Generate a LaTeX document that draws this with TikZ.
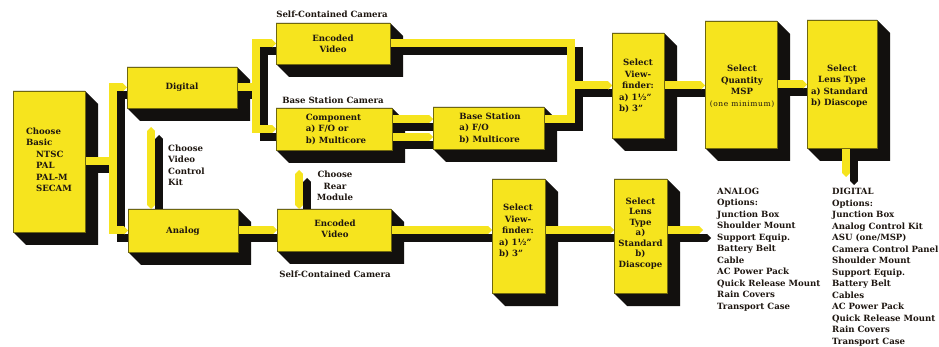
\documentclass[tikz,border=0pt]{standalone}
\usepackage{fontspec}
\setmainfont{DejaVu Serif}
\usetikzlibrary{arrows.meta,calc}
\definecolor{yel}{RGB}{246,228,30}
\definecolor{shad}{RGB}{18,16,14}
\definecolor{ink}{RGB}{30,22,16}
\pgfdeclarelayer{paper}\pgfdeclarelayer{bg}\pgfdeclarelayer{mid}\pgfsetlayers{paper,bg,mid,main}
\tikzset{
  face/.style={rectangle, fill=yel, draw=yel!45!black, line width=0.4pt, inner sep=0pt, outer sep=0pt},
  txt/.style={font=\fontsize{8.6}{11.5}\selectfont\bfseries, text=ink, inner sep=0pt, align=center},
  tipA/.tip={Triangle[width=8pt,length=4pt,line width=0pt]},
  bar/.style={draw=yel, line width=8pt, line join=miter},
  barsh/.style={draw=shad, line width=8pt, line join=miter, transform canvas={xshift=8pt,yshift=-8pt}},
}
\newcommand\mkbox[5]{%
  \node[face, minimum width=#4pt, minimum height=#5pt] (#1) at (#2,#3) {};
  \begin{pgfonlayer}{bg}
  \fill[shad] (#1.north west) -- (#1.north east) -- ($(#1.north east)+(13,13)$)
     -- ($(#1.south east)+(13,13)$) -- ($(#1.south west)+(13,13)$) -- (#1.south west) -- cycle;
  \end{pgfonlayer}}
\newcommand\conn[2][-tipA]{%
  \begin{pgfonlayer}{bg}\draw[barsh,#1] #2;\end{pgfonlayer}%
  \begin{pgfonlayer}{mid}\draw[bar,#1] #2;\end{pgfonlayer}}
\begin{document}
\begin{tikzpicture}[x=1pt,y=-1pt]
\useasboundingbox (0,0) rectangle (939,347);
\begin{pgfonlayer}{paper}\fill[white] (0,0) rectangle (939,347);\end{pgfonlayer}
% boxes
\mkbox{basic}{49}{161.5}{72}{141}
\mkbox{digital}{182}{87.5}{110}{41}
\mkbox{analog}{183}{230.5}{110}{43}
\mkbox{encT}{333}{43.5}{114}{41}
\mkbox{comp}{334}{129}{116}{42}
\mkbox{bases}{488.5}{128}{111}{42}
\mkbox{encB}{334}{230}{114}{42}
\mkbox{vfT}{638}{85.5}{52}{105}
\mkbox{qty}{741}{84.5}{72}{127}
\mkbox{lensT}{842}{84}{70}{128}
\mkbox{vfB}{518.5}{236}{53}{114}
\mkbox{lensB}{640.5}{236}{53}{114}
% free ends
\coordinate (lensOut) at (846,177);
\coordinate (rowB) at (0,230);
\coordinate (anOut) at (703,230);
\coordinate (kitTop) at (151,127);
\coordinate (rearTop) at (299,170);
% connectors
\conn{(basic.east) -| ($(digital.west)+(-14,0)$) -- (digital.west)}
\conn{(basic.east) -| ($(analog.west)+(-15,0)$) -- (analog.west)}
\conn{(digital.east) -| ($(encT.west)+(-20,0)$) -- (encT.west)}
\conn{(digital.east) -| ($(comp.west)+(-20,0)$) -- (comp.west)}
\conn{(encT.east) -| ($(vfT.west)+(-41,0)$) -- (vfT.west)}
\conn{($(bases.east)+(0,-9)$) -| ($(vfT.west)+(-41,0)$) -- (vfT.west)}
\conn{($(comp.east)+(0,-10)$) -- ($(bases.west)+(0,-9)$)}
\conn{($(comp.east)+(0,8)$) -- ($(bases.west)+(0,9)$)}
\conn{(vfT.east) -- (vfT.east -| qty.west)}
\conn{(qty.east) -- (qty.east -| lensT.west)}
\conn{(lensT.south -| lensOut) -- (lensOut)}
\conn{(analog.east |- rowB) -- (encB.west |- rowB)}
\conn{(encB.east |- rowB) -- (vfB.west |- rowB)}
\conn{(vfB.east |- rowB) -- (lensB.west |- rowB)}
\conn{(lensB.east |- rowB) -- (anOut)}
\conn[tipA-tipA]{(kitTop) -- (kitTop |- analog.north)}
\conn[tipA-tipA]{(rearTop) -- (rearTop |- encB.north)}
% box texts
\node[txt, align=left] (t_basic) at (49,160) {Choose\\Basic\\\hspace*{10pt}NTSC\\\hspace*{10pt}PAL\\\hspace*{10pt}PAL-M\\\hspace*{10pt}SECAM};
\node[txt] (t_digital) at (182,87) {Digital};
\node[txt] (t_analog) at (183,231) {Analog};
\node[txt] (t_encT) at (333,44) {Encoded\\Video};
\node[txt, align=left] (t_comp) at (336,129) {Component\\a)\ F/O or\\b)\ Multicore};
\node[txt, align=left] (t_bases) at (490,128) {Base Station\\a)\ F/O\\b)\ Multicore};
\node[txt] (t_encB) at (335,229) {Encoded\\Video};
\node[txt] (t_vfT) at (638,86) {Select\\View-\\finder:\\\makebox[38pt][l]{a)\ 1½”}\\\makebox[38pt][l]{b)\ 3”}};
\node[txt] (t_qty) at (742,86.5) {Select\\Quantity\\MSP\\{\fontsize{7.5}{11.5}\selectfont\mdseries\addfontfeature{LetterSpace=8}(one minimum)}};
\node[txt] (t_lensT) at (842,86) {Select\\Lens Type\\\makebox[62pt][l]{a)\ Standard}\\\makebox[62pt][l]{b)\ Diascope}};
\node[txt] (t_vfB) at (518,231) {Select\\View-\\finder:\\\makebox[38pt][l]{a)\ 1½”}\\\makebox[38pt][l]{b)\ 3”}};
\node[txt, font=\fontsize{8.6}{10.5}\selectfont\bfseries] (t_lensB) at (640.5,233.5) {Select\\Lens\\Type\\a)\\Standard\\b)\\Diascope};
% labels
\node[txt] (l_sc1) at (332,14) {Self-Contained Camera};
\node[txt] (l_bsc) at (333,100) {Base Station Camera};
\node[txt] (l_sc2) at (335,274) {Self-Contained Camera};
\node[txt, align=left, anchor=west] (l_kit) at (168,165.5) {Choose\\Video\\Control\\Kit};
\node[txt] (l_rear) at (335,186) {Choose\\Rear\\Module};
\node[txt, align=left, anchor=west] (optA) at (717,249.5) {ANALOG\\Options:\\Junction Box\\Shoulder Mount\\Support Equip.\\Battery Belt\\Cable\\AC Power Pack\\Quick Release Mount\\Rain Covers\\Transport Case};
\node[txt, align=left, anchor=west] (optD) at (832,267) {DIGITAL\\Options:\\Junction Box\\Analog Control Kit\\ASU (one/MSP)\\Camera Control Panel\\Shoulder Mount\\Support Equip.\\Battery Belt\\Cables\\AC Power Pack\\Quick Release Mount\\Rain Covers\\Transport Case};
\end{tikzpicture}
\end{document}
